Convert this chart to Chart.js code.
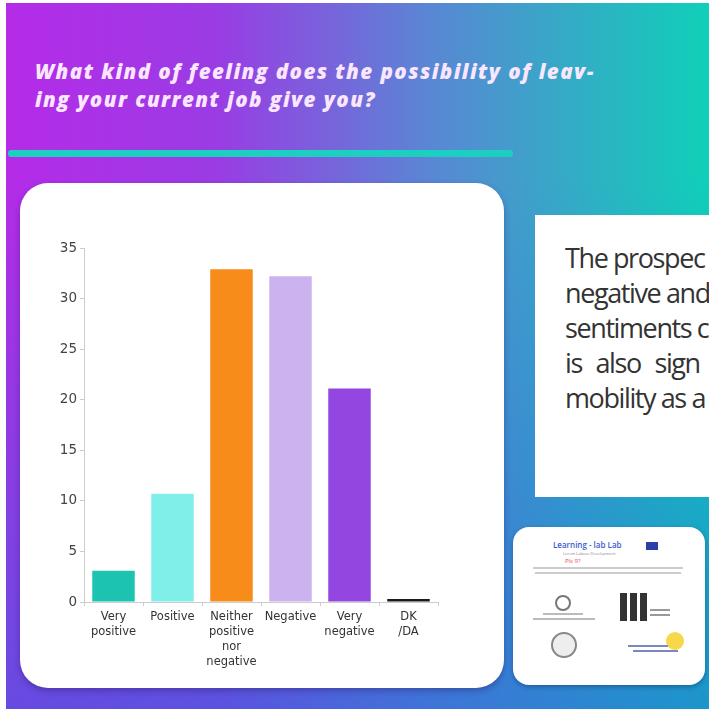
<!DOCTYPE html>
<html>
<head>
<meta charset="utf-8">
<script src="https://cdn.jsdelivr.net/npm/chart.js@4/dist/chart.umd.min.js"></script>
<style>
  html,body{margin:0;padding:0;background:#fff;}
  body{width:709px;height:710px;position:relative;overflow:hidden;}
  #bg{position:absolute;left:6px;top:3px;width:703px;height:706px;
      background:
        linear-gradient(to bottom, rgba(40,100,220,0) 25%, rgba(40,100,220,0.55) 100%),
        linear-gradient(to right, #b52be8 0%, #9a3ce4 30%, #5a86d4 60%, #0fd0b8 100%);}
  #title{position:absolute;left:35px;top:57px;color:#fbe6ff;
      font-family:"Open Sans",sans-serif;font-weight:800;font-style:italic;
      font-size:20.5px;line-height:28px;letter-spacing:1.45px;white-space:nowrap;}
  #rule{position:absolute;left:8px;top:150px;width:505px;height:7px;background:#1ccfc0;border-radius:3px;}
  #card{position:absolute;left:20px;top:183px;width:484px;height:505px;background:#fff;
      border-radius:28px;box-shadow:0 3px 6px rgba(40,20,90,0.35);}
  #chartwrap{position:absolute;left:20px;top:183px;width:484px;height:505px;}
  #textbox{position:absolute;left:535px;top:215px;width:190px;height:282px;background:#fff;overflow:hidden;}
  #textbox div{position:absolute;left:30px;font-family:"Open Sans",sans-serif;font-size:27px;
      color:#333;white-space:nowrap;letter-spacing:-1.4px;}
  #logos{position:absolute;left:513px;top:527px;width:192px;height:158px;background:#fff;border-radius:16px;
      box-shadow:0 2px 5px rgba(0,0,40,0.3);font-family:"Open Sans",sans-serif;}
  .l{position:absolute;}
</style>
</head>
<body>
<div id="bg"></div>
<div id="title">What kind of feeling does the possibility of leav-<br>ing your current job give you?</div>
<div id="rule"></div>
<div id="card"></div>
<div id="chartwrap"><canvas id="c" width="484" height="505"></canvas></div>
<div id="textbox">
  <div style="top:24px">The prospec</div>
  <div style="top:59px">negative and</div>
  <div style="top:94px">sentiments c</div>
  <div style="top:129px;word-spacing:8px">is also sign</div>
  <div style="top:164px">mobility as a</div>
</div>
<div id="logos">
  <div class="l" style="left:40px;top:12px;font-size:8px;color:#3a5bd0;font-weight:600;">Learning - lab Lab</div>
  <div class="l" style="left:133px;top:15px;width:12px;height:8px;background:#2a3fa8;"></div>
  <div class="l" style="left:50px;top:24px;font-size:4px;color:#888;">Lorem Labour Development</div>
  <div class="l" style="left:52px;top:30px;font-size:6px;color:#e05050;">Pls 9?</div>
  <div class="l" style="left:20px;top:40px;width:150px;height:2px;background:#ccc;"></div>
  <div class="l" style="left:22px;top:45px;width:146px;height:2px;background:#ccc;"></div>
  <div class="l" style="left:42px;top:68px;width:12px;height:12px;border-radius:50%;border:2px solid #777;"></div>
  <div class="l" style="left:30px;top:86px;width:40px;height:2px;background:#bbb;"></div>
  <div class="l" style="left:20px;top:91px;width:62px;height:2px;background:#bbb;"></div>
  <div class="l" style="left:38px;top:105px;width:22px;height:22px;border-radius:50%;border:2px solid #888;background:#eee;"></div>
  <div class="l" style="left:107px;top:66px;width:7px;height:28px;background:#333;"></div>
  <div class="l" style="left:117px;top:66px;width:7px;height:28px;background:#333;"></div>
  <div class="l" style="left:127px;top:66px;width:7px;height:28px;background:#333;"></div>
  <div class="l" style="left:137px;top:82px;width:20px;height:2px;background:#999;"></div>
  <div class="l" style="left:137px;top:87px;width:20px;height:2px;background:#999;"></div>
  <div class="l" style="left:153px;top:105px;width:18px;height:18px;border-radius:50%;background:#f7d84a;"></div>
  <div class="l" style="left:115px;top:118px;width:40px;height:2px;background:#7a88c0;"></div>
  <div class="l" style="left:120px;top:123px;width:45px;height:2px;background:#7a88c0;"></div>
</div>
<script>
const categories = [["Very","positive"],"Positive",["Neither","positive","nor","negative"],"Negative",["Very","negative"],["DK","/DA"]];
const values = [3.1, 10.7, 32.9, 32.2, 21.1, 0.3];
const barColors = ["#1cc3b0","#80efea","#f78c1a","#ccb3ef","#9446e0","#1a1a1a"];
const yTicks = [0,5,10,15,20,25,30,35];

new Chart(document.getElementById('c'), {
  type: 'bar',
  data: { labels: categories, datasets: [{ data: values, backgroundColor: barColors, borderWidth: 0,
          categoryPercentage: 1.0, barPercentage: 0.72 }] },
  options: {
    responsive: false, animation: false, devicePixelRatio: 1,
    layout: { padding: { left: 24, right: 66, top: 65, bottom: 6 } },
    plugins: { legend: { display: false }, tooltip: { enabled: false } },
    scales: {
      x: {
        grid: { drawOnChartArea: false, tickLength: 4, color: '#cccccc', offset: true },
        border: { color: '#cccccc' },
        ticks: { color: '#333', font: { family: 'DejaVu Sans', size: 11.5, lineHeight: 1.28 }, maxRotation: 0, autoSkip: false, padding: 4 },
        afterFit: s => { s.height = 80; }
      },
      y: {
        min: 0, max: 35,
        afterBuildTicks: s => { s.ticks = yTicks.map(v => ({ value: v })); },
        grid: { drawOnChartArea: false, tickLength: 4, color: '#cccccc' },
        border: { color: '#cccccc' },
        ticks: { color: '#444', font: { family: 'DejaVu Sans', size: 13.5 }, padding: 3 },
        afterFit: s => { s.width = 40; }
      }
    }
  }
});
</script>
</body>
</html>
